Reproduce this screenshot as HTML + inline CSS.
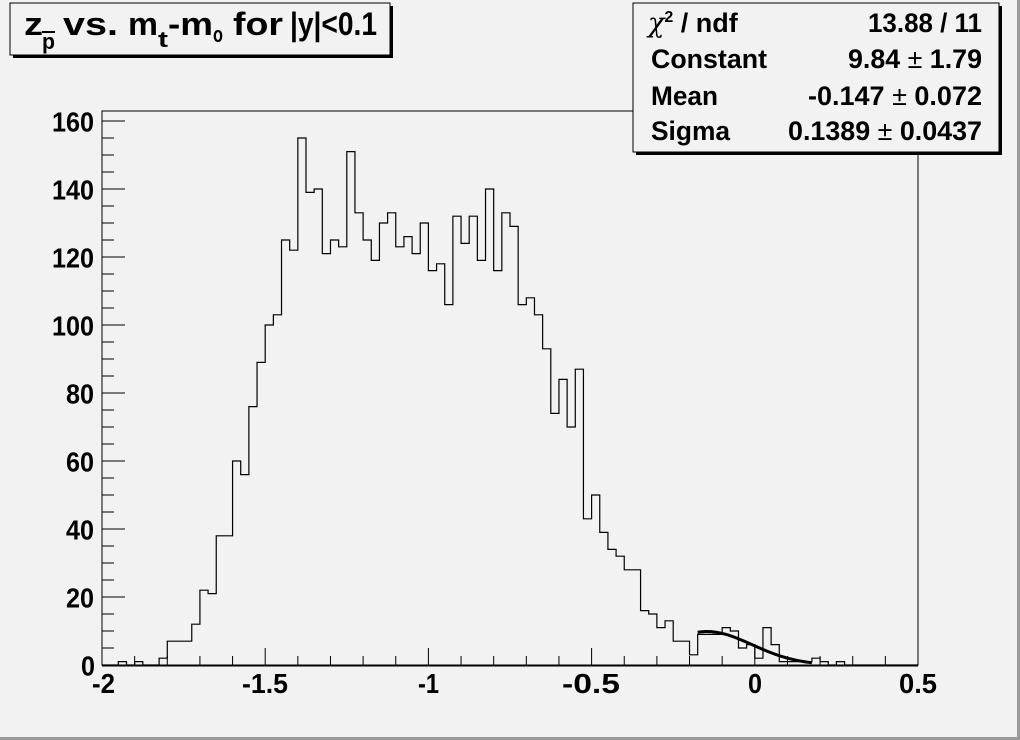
<!DOCTYPE html>
<html><head><meta charset="utf-8"><style>
html,body{margin:0;padding:0;background:#f2f2f2;}
svg{display:block;}
text{font-family:"Liberation Sans",Arial,sans-serif;font-weight:bold;fill:#000;}
</style></head><body>
<svg id="s" width="1020" height="740" xmlns="http://www.w3.org/2000/svg">
<rect x="0" y="0" width="1020" height="740" fill="#f2f2f2"/>
<rect x="0" y="737" width="1020" height="3" fill="#9a9a9a"/>
<rect x="1017" y="0" width="3" height="740" fill="#9a9a9a"/>
<rect x="102" y="111" width="816" height="554" fill="none" stroke="#000" stroke-width="1"/>
<line x1="102" y1="665.5" x2="918" y2="665.5" stroke="#000" stroke-width="2"/>
<g id="ticks" stroke="#000" stroke-width="1"></g>
<path id="hist" fill="none" stroke="#000" stroke-width="1.2"/>
<path id="fit" fill="none" stroke="#000" stroke-width="3"/>
<g font-size="28" text-anchor="end">
<text x="95" y="675.5" textLength="14" lengthAdjust="spacingAndGlyphs">0</text>
<text x="94" y="607.5" textLength="28" lengthAdjust="spacingAndGlyphs">20</text>
<text x="94" y="539.5" textLength="28" lengthAdjust="spacingAndGlyphs">40</text>
<text x="94" y="471.5" textLength="28" lengthAdjust="spacingAndGlyphs">60</text>
<text x="94" y="403.5" textLength="28" lengthAdjust="spacingAndGlyphs">80</text>
<text x="94" y="335.5" textLength="42" lengthAdjust="spacingAndGlyphs">100</text>
<text x="94" y="267.5" textLength="42" lengthAdjust="spacingAndGlyphs">120</text>
<text x="94" y="199.5" textLength="42" lengthAdjust="spacingAndGlyphs">140</text>
<text x="94" y="131.5" textLength="42" lengthAdjust="spacingAndGlyphs">160</text>
</g>
<g font-size="28">
<text x="92" y="693" textLength="23" lengthAdjust="spacingAndGlyphs">-2</text>
<text x="242" y="693" textLength="46" lengthAdjust="spacingAndGlyphs">-1.5</text>
<text x="418" y="693" textLength="21" lengthAdjust="spacingAndGlyphs">-1</text>
<text x="562" y="693" textLength="58" lengthAdjust="spacingAndGlyphs">-0.5</text>
<text x="748" y="693" textLength="14" lengthAdjust="spacingAndGlyphs">0</text>
<text x="899" y="693" textLength="38" lengthAdjust="spacingAndGlyphs">0.5</text>
</g>
<rect x="13" y="6" width="380" height="52" fill="#000"/>
<rect x="10" y="3" width="380" height="52" fill="#f2f2f2" stroke="#000" stroke-width="1"/>
<g font-size="32">
<text x="24" y="35" textLength="19" lengthAdjust="spacingAndGlyphs">z</text>
<text x="42" y="49" font-size="22" textLength="13" lengthAdjust="spacingAndGlyphs">p</text>
<line x1="42" y1="32" x2="55" y2="32" stroke="#000" stroke-width="2"/>
<text x="63" y="35" textLength="55" lengthAdjust="spacingAndGlyphs">vs.</text>
<text x="128" y="35" textLength="30" lengthAdjust="spacingAndGlyphs">m</text>
<text x="158" y="47" font-size="22" textLength="10" lengthAdjust="spacingAndGlyphs">t</text>
<text x="168" y="35" textLength="45" lengthAdjust="spacingAndGlyphs">-m</text>
<text x="213" y="42" font-size="22" textLength="10" lengthAdjust="spacingAndGlyphs">o</text>
<text x="233" y="35" textLength="50" lengthAdjust="spacingAndGlyphs">for</text>
<text x="290" y="35" textLength="87" lengthAdjust="spacingAndGlyphs">|y|&lt;0.1</text>
</g>
<rect x="636" y="6" width="366" height="149" fill="#000"/>
<rect x="633" y="3" width="366" height="149" fill="#f2f2f2" stroke="#000" stroke-width="1"/>
<g font-size="27">
<text x="648" y="32"><tspan font-family="DejaVu Serif, serif" font-style="italic" font-weight="normal">χ</tspan><tspan font-size="16" dy="-10">2</tspan><tspan dy="10"> / ndf</tspan></text>
<text x="651" y="68" textLength="116" lengthAdjust="spacingAndGlyphs">Constant</text>
<text x="651" y="105" textLength="67" lengthAdjust="spacingAndGlyphs">Mean</text>
<text x="651" y="140" textLength="79" lengthAdjust="spacingAndGlyphs">Sigma</text>
<text x="868" y="32" textLength="114" lengthAdjust="spacingAndGlyphs">13.88 / 11</text>
<text x="848" y="68" textLength="134" lengthAdjust="spacingAndGlyphs">9.84<tspan font-weight="normal"> ± </tspan>1.79</text>
<text x="808" y="105" textLength="174" lengthAdjust="spacingAndGlyphs">-0.147<tspan font-weight="normal"> ± </tspan>0.072</text>
<text x="788" y="140" textLength="194" lengthAdjust="spacingAndGlyphs">0.1389<tspan font-weight="normal"> ± </tspan>0.0437</text>
</g>
</svg>
<script>
(function(){
var v=[0,0,1,0,1,0,0,2,7,7,7,12,22,21,38,38,60,56,76,89,100,103,125,122,155,139,140,121,125,123,151,133,125,119,130,133,123,126,121,130,116,118,106,132,124,132,119,140,116,133,129,106,108,103,93,74,84,70,87,43,50,39,34,32,28,28,16,15,11,13,7,7,3,9,9,9,11,10,5,6,2,11,6,1,1,1,1,2,1,0,1];
while(v.length<100)v.push(0);
var X=function(x){return 102+(x+2)*326.4;};
var Y=function(c){return 665-3.4*c;};
var d="M102,665";
for(var i=0;i<100;i++){var x0=102+8.16*i,x1=x0+8.16,y=Y(v[i]);d+=" L"+x0.toFixed(2)+","+y.toFixed(2)+" L"+x1.toFixed(2)+","+y.toFixed(2);}
d+=" L918,665";
document.getElementById("hist").setAttribute("d",d);
var f="";
for(var t=-0.175;t<=0.1751;t+=0.005){var g=9.84*Math.exp(-0.5*Math.pow((t+0.147)/0.1389,2));f+=(f?" L":"M")+X(t).toFixed(2)+","+Y(g).toFixed(2);}
document.getElementById("fit").setAttribute("d",f);
var tk="";
for(var k=0;k<=25;k++){var x=102+32.64*k,len=(k%5==0)?17:9;tk+='<line x1="'+x+'" y1="665" x2="'+x+'" y2="'+(665-len)+'"/>';}
for(var c=0;c<=160;c+=5){var y=665-3.4*c,len=(c%20==0)?23:12;tk+='<line x1="102" y1="'+y+'" x2="'+(102+len)+'" y2="'+y+'"/>';}
document.getElementById("ticks").innerHTML=tk;
})();
</script>
</body></html>
